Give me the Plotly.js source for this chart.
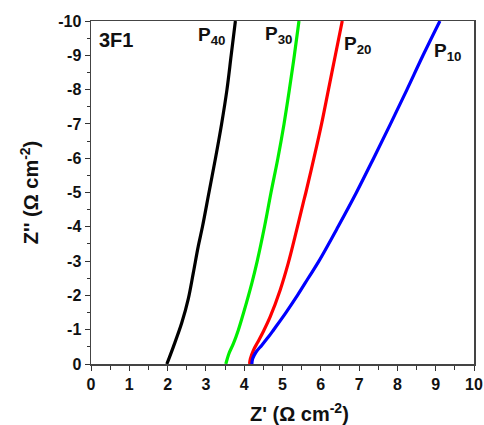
<!DOCTYPE html>
<html>
<head>
<meta charset="utf-8">
<script src="https://cdn.plot.ly/plotly-3.0.1.min.js"></script>
<style>
  html, body { margin: 0; padding: 0; background: #fff; }
  #plot { width: 484px; height: 425px; }
</style>
</head>
<body>
<div id="plot"></div>
<script>
// Nyquist curves for sample 3F1 at four conditions (P10..P40)
const p40Re = [1.98, 2.05, 2.15, 2.37, 2.54, 2.67, 2.80, 2.91, 3.08, 3.25, 3.41, 3.55, 3.66, 3.77];
const p40Im = [0, -0.2, -0.5, -1.2, -1.9, -2.65, -3.43, -4, -5, -6, -7, -8, -9, -10];

const p30Re = [3.52, 3.60, 3.72, 3.85, 3.98, 4.20, 4.34, 4.53, 4.70, 4.88, 5.04, 5.18, 5.31, 5.43];
const p30Im = [0, -0.3, -0.6, -1.0, -1.48, -2.36, -3, -4, -5, -6, -7, -8, -9, -10];

const p20Re = [4.14, 4.16, 4.24, 4.36, 4.50, 4.68, 4.94, 5.15, 5.37, 5.54, 5.61, 5.82, 6.02, 6.20, 6.38, 6.56];
const p20Im = [0, -0.15, -0.4, -0.65, -0.95, -1.38, -2.16, -2.94, -3.91, -4.69, -5, -6, -7, -8, -9, -10];

const p10Re = [4.20, 4.22, 4.31, 4.46, 4.64, 4.77, 5.09, 5.39, 5.67, 5.95, 6.45, 6.93, 7.38, 7.82, 8.25, 8.67, 9.11];
const p10Im = [0, -0.15, -0.35, -0.55, -0.8, -1, -1.5, -2, -2.5, -3, -4, -5, -6, -7, -8, -9, -10];

const seriesNames = ['P<sub>40</sub>', 'P<sub>30</sub>', 'P<sub>20</sub>', 'P<sub>10</sub>'];
const seriesColors = ['#000000', '#00ee00', '#ff0000', '#0000ff'];
const xTicks = [0, 1, 2, 3, 4, 5, 6, 7, 8, 9, 10];
const yTicks = [0, -1, -2, -3, -4, -5, -6, -7, -8, -9, -10];

const curves = [[p40Re, p40Im], [p30Re, p30Im], [p20Re, p20Im], [p10Re, p10Im]];
const traces = curves.map((c, i) => ({
  x: c[0], y: c[1], type: 'scatter', mode: 'lines',
  name: seriesNames[i],
  line: { color: seriesColors[i], width: 3.2, shape: 'spline', smoothing: 1 },
  hoverinfo: 'skip'
}));

const font = 'Liberation Sans, Arial, sans-serif';

// curve labels placed just beside the top end of each curve
const labelPos = [[3.15, -9.55], [4.9, -9.6], [6.95, -9.3], [9.3, -9.1]];
const labelAnn = labelPos.map((p, i) => ({
  x: p[0], y: p[1], xref: 'x', yref: 'y',
  text: '<b>' + seriesNames[i] + '</b>', showarrow: false,
  font: { family: font, size: 19, color: '#111' }
}));

const layout = {
  width: 484, height: 425,
  margin: { l: 91, r: 10, t: 21, b: 61 },
  paper_bgcolor: '#fff', plot_bgcolor: '#fff',
  showlegend: false,
  font: { family: font, color: '#111' },
  xaxis: {
    range: [0, 10], tickvals: xTicks, ticktext: xTicks.map(String),
    ticks: 'outside', ticklen: 5, tickwidth: 1, tickcolor: '#333',
    minor: { dtick: 0.5, ticks: 'outside', ticklen: 4, tickcolor: '#333' },
    showgrid: false, zeroline: false,
    showline: true, linecolor: '#444', linewidth: 1.5, mirror: true,
    tickfont: { family: font, size: 16, color: '#111', weight: 'bold' }
  },
  yaxis: {
    range: [0, -10], tickvals: yTicks, ticktext: yTicks.map(String),
    ticks: 'outside', ticklen: 5, tickwidth: 1, tickcolor: '#333',
    minor: { dtick: 0.5, ticks: 'outside', ticklen: 3, tickcolor: '#333' },
    showgrid: false, zeroline: false,
    showline: true, linecolor: '#444', linewidth: 1.5, mirror: true,
    tickfont: { family: font, size: 16, color: '#111', weight: 'bold' },
    title: { text: '<b>Z\'\' (Ω cm<sup>-2</sup>)</b>', font: { family: font, size: 20, color: '#111' }, standoff: 14 }
  },
  annotations: [
    { x: 0.015, y: 0.982, xref: 'paper', yref: 'paper', xanchor: 'left', yanchor: 'top',
      text: '<b>3F1</b>', showarrow: false, font: { family: font, size: 20, color: '#111' } },
    // x-axis title, sitting slightly right of centre
    { x: 0.545, y: 0, xref: 'paper', yref: 'paper', yanchor: 'middle', xanchor: 'center',
      text: '<b>Z\' (Ω cm<sup>-2</sup>)</b>', showarrow: false,
      font: { family: font, size: 20, color: '#111' } }
  ].concat(labelAnn)
};
// convert the title's pixel row (412) into paper units
layout.annotations[1].y = (425 - 61 - 412) / (425 - 61 - 21);

Plotly.newPlot('plot', traces, layout, { displayModeBar: false, staticPlot: true });
</script>
</body>
</html>
